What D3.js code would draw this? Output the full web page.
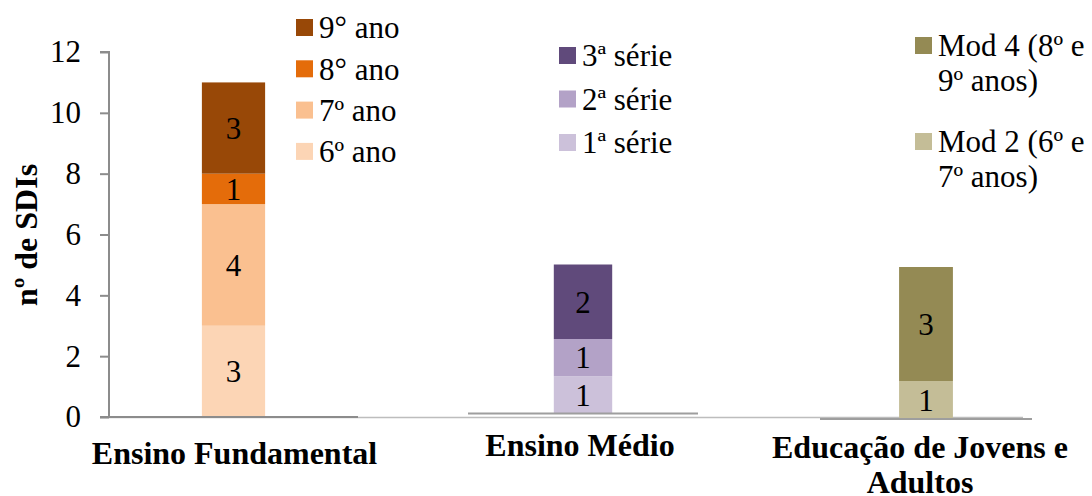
<!DOCTYPE html>
<html>
<head>
<meta charset="utf-8">
<script src="https://cdn.jsdelivr.net/npm/d3@7"></script>
<style>
  html, body { margin: 0; padding: 0; background: #fff; }
  svg { display: block; }
</style>
</head>
<body>
<svg id="chart" width="1092" height="496"></svg>
<script>
// Number of SDIs per school level, split by grade
const fundamentalGrades = ["6º ano", "7º ano", "8° ano", "9° ano"];
const fundamentalValues = [3, 4, 1, 3];
const fundamentalColors = ["#FCD5B5", "#FAC090", "#E46C0A", "#984807"];

const medioGrades = ["1ª série", "2ª série", "3ª série"];
const medioValues = [1, 1, 2];
const medioColors = ["#CCC1DA", "#B3A2C7", "#604A7B"];

const ejaGrades = [["Mod 2 (6º e", "7º anos)"], ["Mod 4 (8º e", "9º anos)"]];
const ejaValues = [1, 3];
const ejaColors = ["#C4BD97", "#948A54"];

const categories = ["Ensino Fundamental", "Ensino Médio", "Educação de Jovens e Adultos"];
const yTicks = [0, 2, 4, 6, 8, 10, 12];

const SERIF = "Liberation Serif";
const FONT = 31;

const svg = d3.select("#chart").attr("font-family", SERIF);

function txt(sel) {
  return sel.attr("font-family", SERIF).attr("fill", "#000");
}

// Each level is drawn as its own small stacked column panel
const panels = [
  { cat: categories[0], labels: fundamentalGrades, values: fundamentalValues, colors: fundamentalColors,
    x0: 109, x1: 358, base: 417, top: 52, max: 12,
    catLines: ["Ensino Fundamental"], catY: 464, catDx: 1,
    legendX: 296, legendY: 19, legendStep: 41.3 },
  { cat: categories[1], labels: medioGrades, values: medioValues, colors: medioColors,
    x0: 468, x1: 698, base: 413.5, top: 264.5, max: 4,
    catLines: ["Ensino Médio"], catY: 456, catDx: -3,
    legendX: 559, legendY: 47, legendStep: 43.5 },
  { cat: categories[2], labels: ejaGrades, values: ejaValues, colors: ejaColors,
    x0: 820, x1: 1032, base: 419, top: 267, max: 4,
    catLines: ["Educação de Jovens e", "Adultos"], catY: 458, catDx: -6,
    legendX: 915, legendY: 37, legendStep: 96 }
];

// long light floor line behind the panels
svg.append("line")
  .attr("x1", 100).attr("x2", 1023).attr("y1", 417.5).attr("y2", 417.5)
  .attr("stroke", "#bdbdbd").attr("stroke-width", 1.5);

panels.forEach((p, pi) => {
  const x = d3.scaleBand().domain([p.cat]).range([p.x0, p.x1])
    .paddingInner(0.595).paddingOuter(0.595);
  const y = d3.scaleLinear().domain([0, p.max]).range([p.base, p.top]);

  const stacked = [];
  let acc = 0;
  p.values.forEach((v, i) => {
    stacked.push({ y0: acc, y1: acc + v, v, color: p.colors[i] });
    acc += v;
  });

  const g = svg.append("g");
  g.selectAll("rect").data(stacked).join("rect")
    .attr("x", x(p.cat))
    .attr("width", x.bandwidth())
    .attr("y", d => y(d.y1))
    .attr("height", d => y(d.y0) - y(d.y1))
    .attr("fill", d => d.color);

  g.selectAll("text.val").data(stacked).join("text")
    .attr("class", "val")
    .call(txt)
    .attr("x", x(p.cat) + x.bandwidth() / 2)
    .attr("y", d => (y(d.y0) + y(d.y1)) / 2)
    .attr("dy", "0.35em")
    .attr("text-anchor", "middle")
    .attr("font-size", FONT)
    .text(d => d.v);

  // panel floor
  if (pi === 0) {
    svg.append("line").attr("x1", 100).attr("x2", 358).attr("y1", p.base).attr("y2", p.base)
      .attr("stroke", "#8c8c8c").attr("stroke-width", 2);
  } else {
    svg.append("line").attr("x1", p.x0).attr("x2", p.x1).attr("y1", p.base).attr("y2", p.base)
      .attr("stroke", "#9e9e9e").attr("stroke-width", 2);
  }

  // category label
  const cx = x(p.cat) + x.bandwidth() / 2 + p.catDx;
  const cl = svg.append("text").call(txt)
    .attr("x", cx)
    .attr("y", p.catY)
    .attr("text-anchor", "middle")
    .attr("font-size", 32).attr("font-weight", "bold");
  p.catLines.forEach((line, li) => {
    cl.append("tspan").attr("x", cx).attr("dy", li === 0 ? 0 : 35).text(line);
  });

  // legend, top series first
  const order = d3.range(p.values.length).reverse();
  order.forEach((idx, row) => {
    const ly = p.legendY + row * p.legendStep;
    svg.append("rect").attr("x", p.legendX).attr("y", ly).attr("width", 17).attr("height", 17)
      .attr("fill", p.colors[idx]);
    const lab = p.labels[idx];
    const lines = Array.isArray(lab) ? lab : [lab];
    const t = svg.append("text").call(txt).attr("x", p.legendX + 23).attr("y", ly + 8.5)
      .attr("font-size", FONT);
    lines.forEach((line, li) => {
      t.append("tspan").attr("x", p.legendX + 23).attr("dy", li === 0 ? "0.35em" : 35).text(line);
    });
  });

  // y axis on the first panel only
  if (pi === 0) {
    const axis = d3.axisLeft(y).tickValues(yTicks).tickSize(9).tickPadding(19).tickFormat(d3.format("d"));
    const ag = svg.append("g").attr("transform", `translate(${p.x0},0)`).call(axis)
      .attr("font-family", SERIF).attr("font-size", FONT);
    ag.select(".domain").attr("stroke", "#8c8c8c").attr("stroke-width", 2)
      .attr("d", `M-9,${y(12)}H0V${y(0)}`);
    ag.selectAll(".tick line").attr("stroke", "#8c8c8c").attr("stroke-width", 2);
    ag.selectAll(".tick text").call(txt).attr("font-size", FONT);
  }
});

// y axis title
svg.append("text").call(txt)
  .attr("transform", "translate(26,235) rotate(-90)")
  .attr("text-anchor", "middle")
  .attr("dy", "0.35em")
  .attr("font-size", 32).attr("font-weight", "bold")
  .text("nº de SDIs");
</script>
</body>
</html>
